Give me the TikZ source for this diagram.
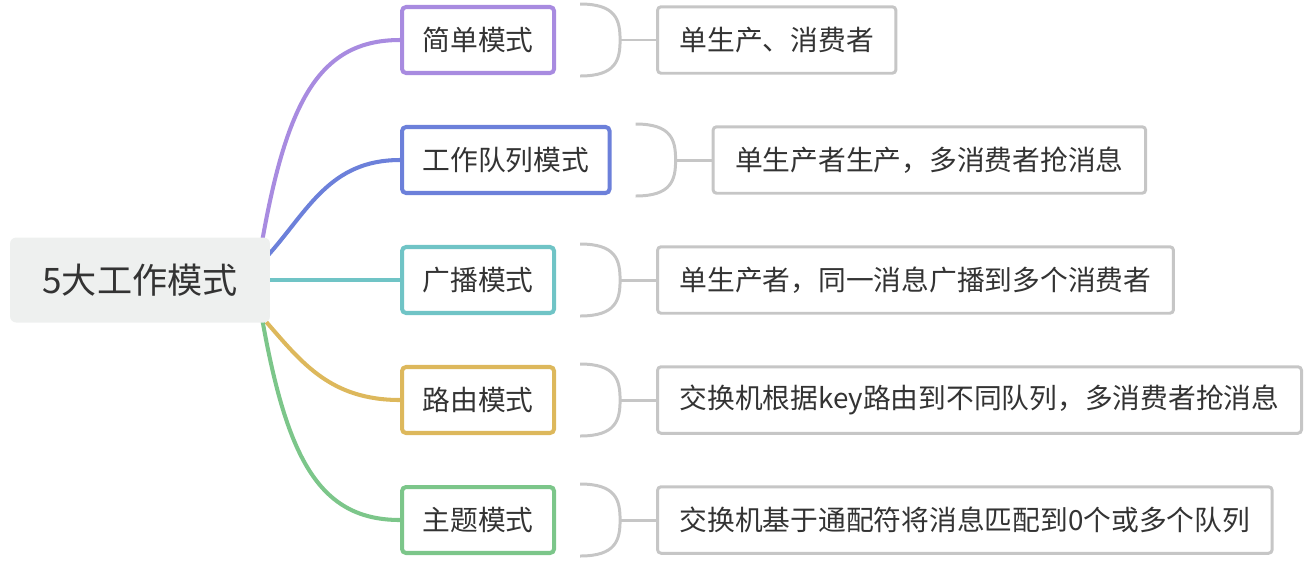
\documentclass[tikz,border=0pt]{standalone}
\usepackage{fontspec}
\setmainfont{Noto Sans CJK SC}
\usepackage{tikz}
\usetikzlibrary{positioning,calc,backgrounds}
\definecolor{ModeText}{HTML}{333333}
\definecolor{ModeRoot}{HTML}{EEF0EF}
\definecolor{ModeGray}{HTML}{C6C6C6}
\definecolor{ModePurple}{HTML}{A88BE0}
\definecolor{ModeBlue}{HTML}{6C80DA}
\definecolor{ModeTeal}{HTML}{70C4C6}
\definecolor{ModeYellow}{HTML}{DDB85C}
\definecolor{ModeGreen}{HTML}{7CC68A}

\begin{document}
\begin{tikzpicture}[x=0.02cm,y=-0.02cm,
    topic/.style={draw,line width=2.3pt,rounded corners=2.3pt,fill=white,anchor=west,
      minimum height=1.32cm,inner xsep=0.41cm,text=ModeText,font=\fontsize{15.8}{18}\selectfont},
    leaf/.style={draw=ModeGray,line width=1.7pt,rounded corners=2pt,fill=white,
      minimum height=1.33cm,inner xsep=0.44cm,text=ModeText,font=\fontsize{15.8}{18}\selectfont},
    link/.style={line width=2.3pt},
    brace/.style={ModeGray,line width=1.7pt}]
    \useasboundingbox (0,0) rectangle (1310,562);
    \node[fill=ModeRoot,rounded corners=3.5pt,minimum width=5.2cm,minimum height=1.7cm,
      text=ModeText,font=\fontsize{20}{24}\selectfont] (root) at (140,280) {5大工作模式};
    \foreach \i/\y/\col/\name/\txt in {1/40/ModePurple/简单模式/单生产、消费者,
        2/160/ModeBlue/工作队列模式/单生产者生产，多消费者抢消息,
        3/280/ModeTeal/广播模式/单生产者，同一消息广播到多个消费者,
        4/400/ModeYellow/路由模式/交换机根据key路由到不同队列，多消费者抢消息,
        5/520/ModeGreen/主题模式/交换机基于通配符将消息匹配到0个或多个队列} {
      \node[topic,draw=\col] (b\i) at (400,\y) {\name};
      \node[leaf,right=2cm of b\i] (l\i) {\txt};
      \draw[brace] ($(b\i.east)+(24,-36)$) .. controls +(36,0) and +(0,-20) .. ($(b\i.east)+(64,0)$)
        .. controls +(0,20) and +(36,0) .. ($(b\i.east)+(24,36)$);
      \draw[brace] ($(b\i.east)+(64,0)$) -- (l\i.west);
    }
    % branches from the root
    \begin{scope}[on background layer]
      \draw[link,ModePurple] ($(root.north east)+(-8,3)$) .. controls +(25,-140) and +(-80,0) .. (b1.west);
      \draw[link,ModeBlue] ($(root.east)+(-2,-25)$) .. controls +(40,-45) and +(-70,0) .. (b2.west);
      \draw[link,ModeTeal] (root.east) -- (b3.west);
      \draw[link,ModeYellow] ($(root.east)+(-4,42)$) .. controls +(35,40) and +(-70,0) .. (b4.west);
      \draw[link,ModeGreen] ($(root.south east)+(-8,-3)$) .. controls +(25,140) and +(-80,0) .. (b5.west);
    \end{scope}
\end{tikzpicture}
\end{document}
